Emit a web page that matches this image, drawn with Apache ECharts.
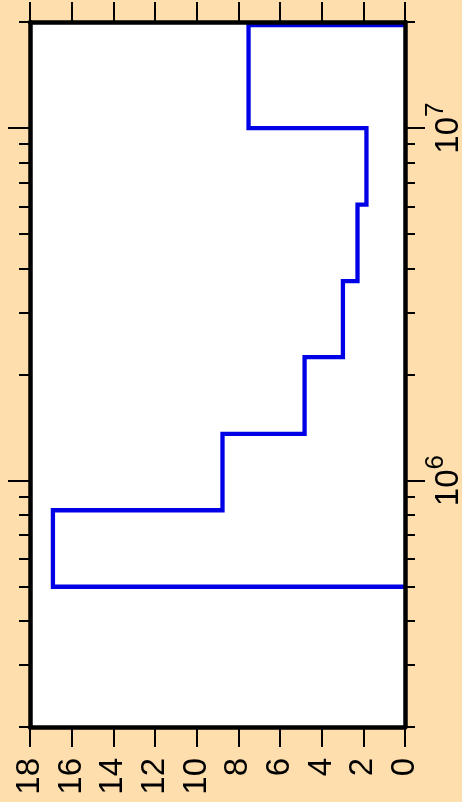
<!DOCTYPE html>
<html><head><meta charset="utf-8">
<script src="https://cdn.jsdelivr.net/npm/echarts@6/dist/echarts.min.js"></script>
<style>html,body{margin:0;padding:0;background:#FFDEAD;}#c{width:462px;height:802px;}</style>
</head><body><div id="c"></div>
<script>
// histogram bin edges (log axis) and counts
var binEdges = [5.0e5, 8.24e5, 1.357e6, 2.24e6, 3.68e6, 6.07e6, 1.0e7, 1.96e7];
var counts = [16.9, 8.76, 4.82, 2.98, 2.28, 1.85, 7.51];
var valueTicks = [0, 2, 4, 6, 8, 10, 12, 14, 16, 18];
var majorLogTicks = [1e6, 1e7];
var minorLogTicks = [2e5, 3e5, 4e5, 5e5, 6e5, 7e5, 8e5, 9e5, 2e6, 3e6, 4e6, 5e6, 6e6, 7e6, 8e6, 9e6, 2e7];
var logMin = 2e5, logMax = 2e7;

var pts = [[0, binEdges[0]]];
for (var i = 0; i < counts.length; i++) {
  pts.push([counts[i], binEdges[i]]);
  pts.push([counts[i], binEdges[i + 1]]);
}
pts.push([0, binEdges[binEdges.length - 1]]);

var FONT = 'Liberation Sans';
var chart = echarts.init(document.getElementById('c'), null, {renderer: 'canvas'});
function xAx(pos, labels) {
  return {
    type: 'value', position: pos, min: 0, max: 18, interval: 2, inverse: true, z: 10,
    axisLine: {show: true, onZero: false, lineStyle: {color: '#000', width: 4.5}},
    axisTick: {show: true, inside: false, length: 20, lineStyle: {color: '#000', width: 2}},
    axisLabel: {show: labels, rotate: 90, margin: 31, color: '#000', fontFamily: FONT, fontSize: 33},
    splitLine: {show: false}
  };
}
function yAx(pos, vals, len, line, labels) {
  return {
    type: 'log', logBase: 10, position: pos, min: logMin, max: logMax, z: 10,
    axisLine: {show: line, onZero: false, lineStyle: {color: '#000', width: 4.5}},
    axisTick: {show: true, inside: false, length: len, customValues: vals, lineStyle: {color: '#000', width: 2}},
    axisLabel: {show: labels, customValues: majorLogTicks, rotate: 90, margin: 18, color: '#000', fontFamily: FONT,
      formatter: function (v) { return '{b|10}{s|' + Math.round(Math.log10(v)) + '}'; },
      rich: {b: {fontSize: 33, fontFamily: FONT, color: '#000', verticalAlign: 'bottom'},
             s: {fontSize: 26, fontFamily: FONT, color: '#000', verticalAlign: 'bottom', padding: [0, 0, 16, 0]}}},
    splitLine: {show: false}
  };
}
chart.setOption({
  animation: false,
  backgroundColor: '#FFDEAD',
  grid: {left: 30, right: 57, top: 22, bottom: 75, show: true, backgroundColor: '#fff', borderWidth: 0,
         containLabel: false, outerBoundsMode: 'none'},
  xAxis: [xAx('bottom', true), xAx('top', false)],
  yAxis: [yAx('right', majorLogTicks, 20, true, true), yAx('right', minorLogTicks, 10, false, false),
          yAx('left', majorLogTicks, 22, true, false), yAx('left', minorLogTicks, 11, false, false)],
  series: [{
    type: 'line', xAxisIndex: 0, yAxisIndex: 0, data: pts, symbol: 'none', z: 2,
    lineStyle: {color: '#0000e6', width: 4.3, join: 'miter'}
  }]
});
</script></body></html>
